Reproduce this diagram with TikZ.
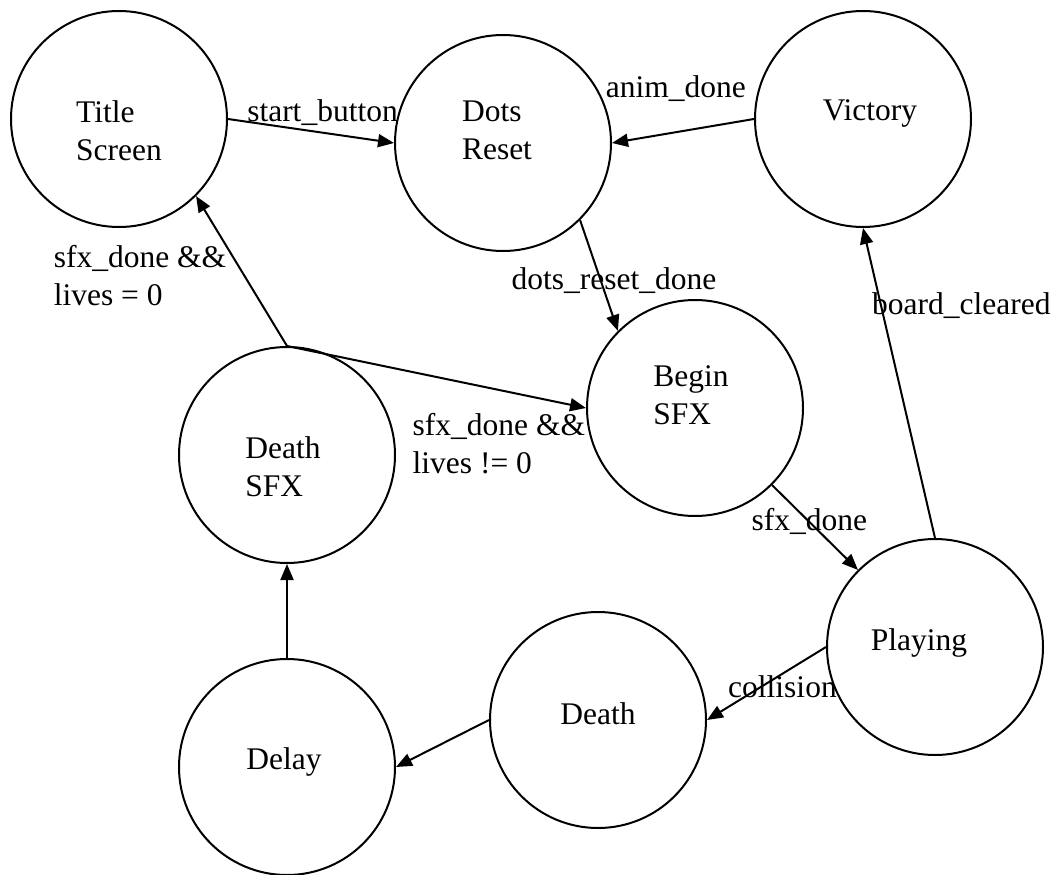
\documentclass[tikz,border=0pt]{standalone}
\usepackage{fontspec}
\setmainfont{Liberation Serif}
\usepackage{tikz}
\usetikzlibrary{arrows.meta}

\begin{document}
\begin{tikzpicture}[
  x=1pt, y=-1pt,
  state/.style={circle, draw=black, line width=2pt, minimum size=216pt, inner sep=0pt},
  txt/.style={inner sep=0pt, align=left, font=\fontsize{31.5}{38}\selectfont},
  arr/.style={-{Triangle[length=16pt, width=13pt]}, draw=black, line width=2pt},
  lbl/.style={txt}
]
  \useasboundingbox (0,0) rectangle (1055,875);

  \node[state, label={[txt, yshift=-12pt]center:{Title\\Screen}}] (title) at (119,119) {};
  \node[state, label={[txt, xshift=-6pt, yshift=13pt]center:{Dots\\Reset}}] (dots) at (503,143) {};
  \node[state, label={[txt, xshift=7pt, yshift=6pt]center:Victory}] (victory) at (863,119) {};
  \node[state, label={[txt, xshift=-4pt, yshift=13pt]center:{Begin\\SFX}}] (beginsfx) at (695,408) {};
  \node[state, label={[txt, xshift=-4pt, yshift=-12pt]center:{Death\\SFX}}] (deathsfx) at (287,455) {};
  \node[state, label={[txt, xshift=-16pt, yshift=4pt]center:Playing}] (playing) at (935,647) {};
  \node[state, label={[txt, yshift=6pt]center:Death}] (death) at (598,720) {};
  \node[state, label={[txt, xshift=-3pt, yshift=5pt]center:Delay}] (delay) at (287,767) {};

  \draw[arr] (title.east) -- (dots.west)
    node[lbl, pos=0.11, anchor=base west] {start\_button};
  \draw[arr] (victory.west) -- (dots.east)
    node[lbl, pos=0.05, anchor=base east, yshift=23pt] {anim\_done};
  \draw[arr] (dots.south east) -- (beginsfx.north west)
    node[lbl, pos=0.63, anchor=base, xshift=10pt] {dots\_reset\_done};
  \draw[arr] (beginsfx.south east) -- (playing.north west)
    node[lbl, pos=0.54, anchor=base, xshift=-9pt] {sfx\_done};
  \draw[arr] (playing.north) -- (victory.south)
    node[lbl, pos=0.72, anchor=base west, xshift=-12pt] {board\_cleared};
  \draw[arr] (playing.west) -- (death.east)
    node[lbl, pos=0.83, anchor=base west, yshift=10pt] {collision};
  \draw[arr] (death.west) -- (delay.east);
  \draw[arr] (delay.north) -- (deathsfx.south);
  \draw[arr] (deathsfx.north) -- (title.south east)
    node[lbl, pos=0.68, anchor=north east, xshift=2pt] {sfx\_done \&\&\\lives = 0};
  \draw[arr] (deathsfx.north) -- (beginsfx.west)
    node[lbl, pos=1, anchor=north east, yshift=-4pt] {sfx\_done \&\&\\lives != 0};
\end{tikzpicture}
\end{document}
